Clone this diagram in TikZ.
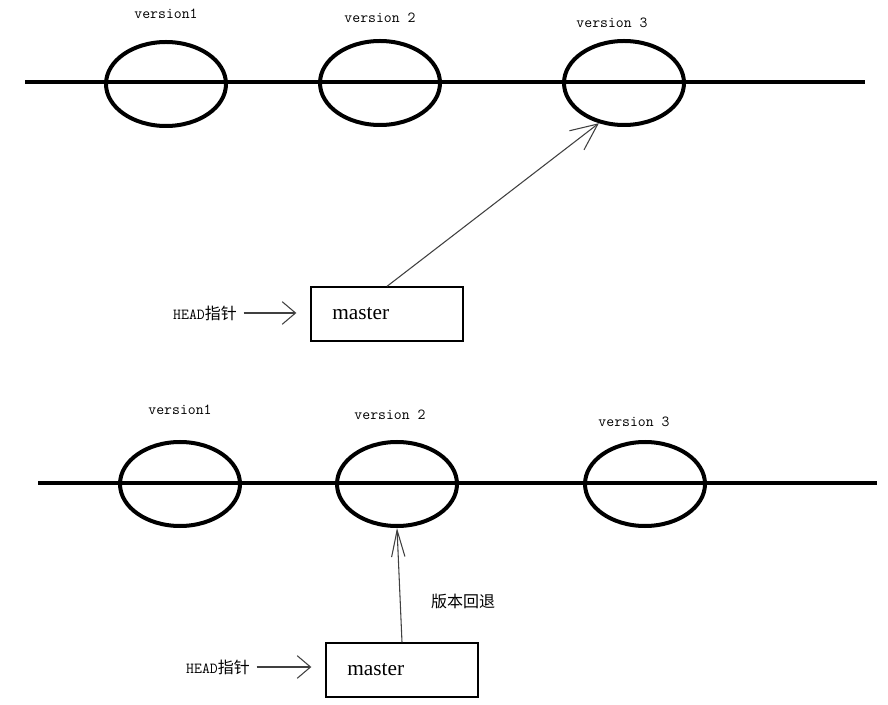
\documentclass[tikz,border=0pt]{standalone}
\usepackage{fontspec}
\setmainfont{Liberation Serif}
\newfontfamily\cjkfont{Noto Sans CJK SC}
\usetikzlibrary{shapes,arrows.meta}
\usetikzlibrary{positioning}

\begin{document}
\begin{tikzpicture}[x=0.75pt,y=-0.75pt,
	commit_node/.style={ellipse,draw,line width=3pt,minimum width=90pt,minimum height=63pt,inner sep=0pt},
	ver_label/.style={inner sep=1pt,font=\ttfamily\fontsize{11.5}{13}\selectfont},
	branch_node/.style={rectangle,draw,line width=1pt,minimum width=114pt,minimum height=40.5pt,text width=82pt,inner xsep=16pt,align=left,font=\fontsize{16}{18}\selectfont},
	head_label/.style={inner sep=0pt,font=\fontsize{11.5}{13}\selectfont},
	timeline/.style={line width=3pt},
	ptr/.style={draw=black!75,line width=0.8pt,-{Straight Barb[length=20pt,width=#1]}},
	ptr/.default=14pt,
	head_ptr/.style={draw=black!75,line width=0.8pt,-{Straight Barb[length=10pt,width=17pt]},shorten <=5pt,shorten >=10.5pt}]
	
	\useasboundingbox (0,0) rectangle (888,705);
	
	% before
	\coordinate (ta) at (25,82);
	\coordinate (tb) at (865,82);
	\draw[timeline] (ta) -- (tb);
	
	\node[commit_node] (v1) at (166,84) {};
	\node[commit_node] (v2) at (380,83) {};
	\node[commit_node] (v3) at (624,83) {};
	\node[ver_label] (l1) at (166,14) {version1};
	\node[ver_label] (l2) at (380,18) {version 2};
	\node[ver_label] (l3) at (612,23) {version 3};
	
	\node[branch_node] (m1) at (387,314) {master};
	\node[head_label] (h1) at (205,313) {{\ttfamily HEAD}{\cjkfont\fontsize{12}{13}\selectfont 指针}};
	
	\draw[head_ptr] (h1.east) -- (h1.east -| m1.west);
	\draw[ptr=18pt] (m1.north) -- (v3.238);
	
	% after reset
	\coordinate (ba) at (38,483);
	\coordinate (bb) at (877,483);
	\draw[timeline] (ba) -- (bb);
	
	\node[commit_node] (w1) at (180,484) {};
	\node[commit_node] (w2) at (397,484) {};
	\node[commit_node] (w3) at (645,484) {};
	\node[ver_label] (k1) at (180,410) {version1};
	\node[ver_label] (k2) at (390,415) {version 2};
	\node[ver_label] (k3) at (634,422) {version 3};
	
	\node[branch_node] (m2) at (402,670) {master};
	\node[head_label] (h2) at (218,667) {{\ttfamily HEAD}{\cjkfont\fontsize{12}{13}\selectfont 指针}};
	\node[head_label,font=\cjkfont\fontsize{12}{13}\selectfont] (rb) at (463,601) {版本回退};
	
	\draw[head_ptr] (h2.east) -- (h2.east -| m2.west);
	\draw[ptr=10pt] (m2.north) -- (w2.south);
\end{tikzpicture}
\end{document}
